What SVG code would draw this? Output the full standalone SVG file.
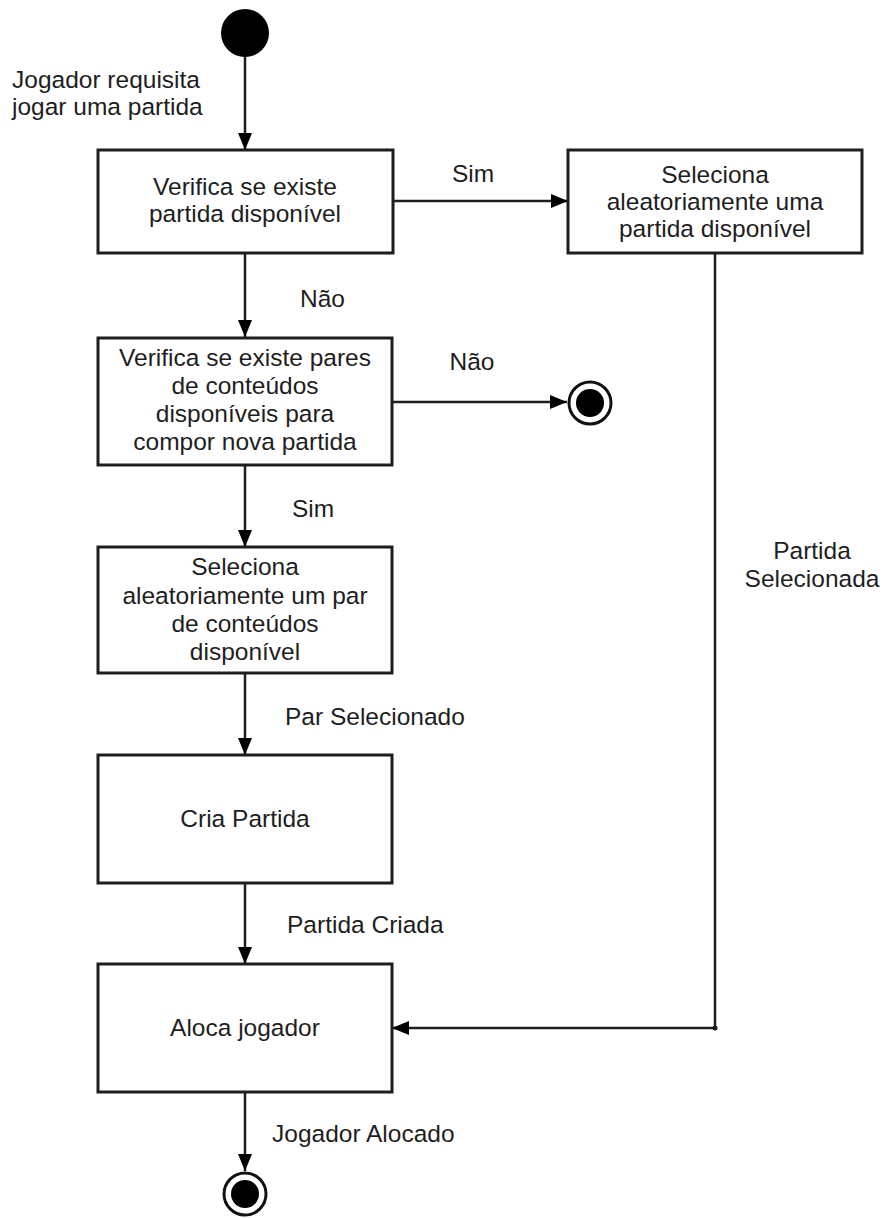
<svg xmlns="http://www.w3.org/2000/svg" width="883" height="1218" viewBox="0 0 883 1218">
  <style>
    .box { fill: #ffffff; stroke: #1e1e1e; stroke-width: 3; }
    .txt { font-family: "Liberation Sans", Arial, sans-serif; font-size: 24.5px; fill: #1e1e1e; }
    .mid { text-anchor: middle; }
    .edge { fill: none; stroke: #1e1e1e; stroke-width: 2.5; }
    .ring { fill: #ffffff; stroke: #111111; stroke-width: 3; }
    .dot { fill: #000000; }
  </style>
  <defs>
    <marker id="arrow" markerUnits="userSpaceOnUse" markerWidth="18" markerHeight="16" refX="17" refY="8" orient="auto">
      <path d="M0,1 L17,8 L0,15 z" fill="#000000"/>
    </marker>
  </defs>

  <rect width="883" height="1218" fill="#ffffff"/>

  <!-- connectors -->
  <g id="connectors">
    <line class="edge" x1="245" y1="56" x2="245" y2="150" marker-end="url(#arrow)"/>
    <line class="edge" x1="393" y1="201" x2="568" y2="201" marker-end="url(#arrow)"/>
    <line class="edge" x1="245" y1="253" x2="245" y2="337" marker-end="url(#arrow)"/>
    <line class="edge" x1="392" y1="402" x2="567" y2="402" marker-end="url(#arrow)"/>
    <line class="edge" x1="245" y1="465" x2="245" y2="547" marker-end="url(#arrow)"/>
    <line class="edge" x1="245" y1="673" x2="245" y2="755" marker-end="url(#arrow)"/>
    <line class="edge" x1="245" y1="883" x2="245" y2="964" marker-end="url(#arrow)"/>
    <polyline class="edge" points="715,253 715,1028 392,1028" marker-end="url(#arrow)"/>
    <circle cx="715" cy="1028" r="2.5" fill="#1e1e1e"/>
    <line class="edge" x1="245" y1="1092" x2="245" y2="1171" marker-end="url(#arrow)"/>

    <text class="txt" x="12" y="88">Jogador requisita</text>
    <text class="txt" x="12" y="115">jogar uma partida</text>
    <text class="txt mid" x="473" y="182">Sim</text>
    <text class="txt" x="300" y="307">Não</text>
    <text class="txt mid" x="472" y="370">Não</text>
    <text class="txt" x="292" y="517">Sim</text>
    <text class="txt" x="285" y="725">Par Selecionado</text>
    <text class="txt" x="287" y="933">Partida Criada</text>
    <text class="txt" x="272" y="1142">Jogador Alocado</text>
    <text class="txt mid" x="812" y="559">Partida</text>
    <text class="txt mid" x="812" y="587">Selecionada</text>
  </g>

  <!-- start node -->
  <g id="start">
    <circle class="dot" cx="245" cy="33" r="24"/>
  </g>

  <g id="verifica-partida">
    <rect class="box" x="98" y="150" width="295" height="103"/>
    <text class="txt mid" x="245" y="195">Verifica se existe</text>
    <text class="txt mid" x="245" y="222">partida disponível</text>
  </g>

  <g id="seleciona-partida">
    <rect class="box" x="568" y="150" width="294" height="103"/>
    <text class="txt mid" x="715" y="183">Seleciona</text>
    <text class="txt mid" x="715" y="210">aleatoriamente uma</text>
    <text class="txt mid" x="715" y="237">partida disponível</text>
  </g>

  <g id="verifica-pares">
    <rect class="box" x="98" y="338" width="294" height="127"/>
    <text class="txt mid" x="245" y="366">Verifica se existe pares</text>
    <text class="txt mid" x="245" y="394">de conteúdos</text>
    <text class="txt mid" x="245" y="422">disponíveis para</text>
    <text class="txt mid" x="245" y="450">compor nova partida</text>
  </g>

  <g id="fim-sem-pares">
    <circle class="ring" cx="590" cy="403" r="21"/>
    <circle class="dot" cx="590" cy="403" r="14"/>
  </g>

  <g id="seleciona-par">
    <rect class="box" x="98" y="547" width="294" height="126"/>
    <text class="txt mid" x="245" y="575">Seleciona</text>
    <text class="txt mid" x="245" y="604">aleatoriamente um par</text>
    <text class="txt mid" x="245" y="632">de conteúdos</text>
    <text class="txt mid" x="245" y="660">disponível</text>
  </g>

  <g id="cria-partida">
    <rect class="box" x="98" y="755" width="294" height="128"/>
    <text class="txt mid" x="245" y="827">Cria Partida</text>
  </g>

  <g id="aloca-jogador">
    <rect class="box" x="98" y="964" width="294" height="128"/>
    <text class="txt mid" x="245" y="1036">Aloca jogador</text>
  </g>

  <g id="fim">
    <circle class="ring" cx="245" cy="1194" r="21"/>
    <circle class="dot" cx="245" cy="1194" r="14"/>
  </g>
</svg>
